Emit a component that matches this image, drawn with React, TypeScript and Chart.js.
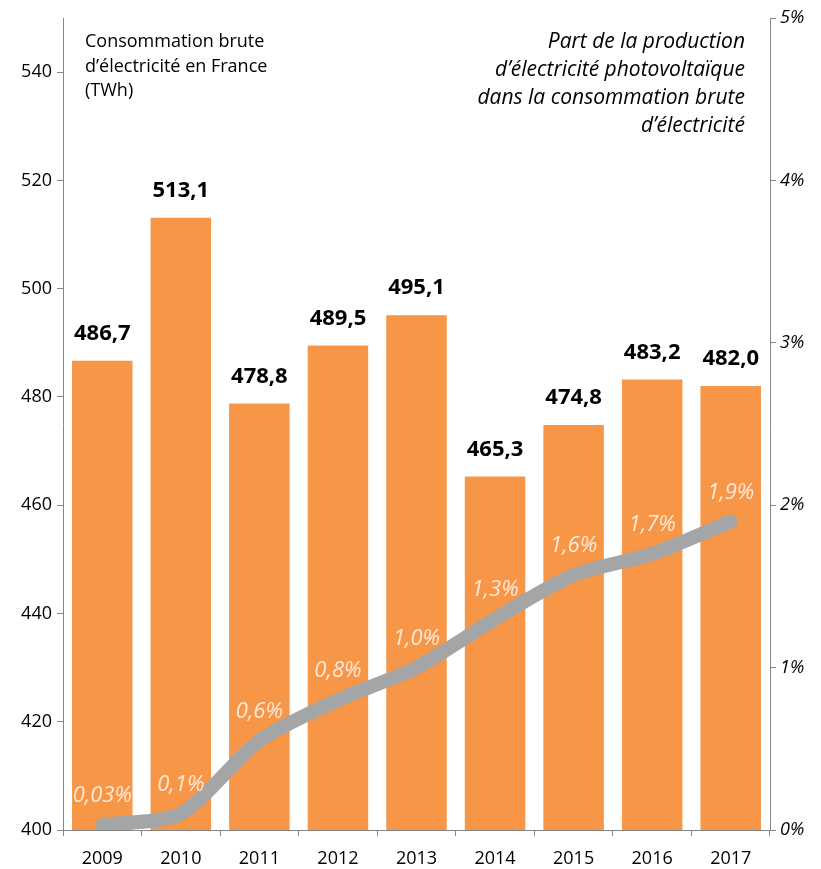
import React, { useEffect, useRef } from "react";
import { Chart, registerables } from "chart.js";
Chart.register(...registerables);

const years = ["2009", "2010", "2011", "2012", "2013", "2014", "2015", "2016", "2017"];
const consumption = [486.7, 513.1, 478.8, 489.5, 495.1, 465.3, 474.8, 483.2, 482.0];
const consumptionLabels = ["486,7", "513,1", "478,8", "489,5", "495,1", "465,3", "474,8", "483,2", "482,0"];
const pvShare = [0.03, 0.1, 0.55, 0.8, 1.0, 1.3, 1.57, 1.7, 1.9];
const pvShareLabels = ["0,03%", "0,1%", "0,6%", "0,8%", "1,0%", "1,3%", "1,6%", "1,7%", "1,9%"];
const leftTitle = ["Consommation brute", "d\u2019électricité en France", "(TWh)"];
const rightTitle = ["Part de la production", "d\u2019électricité photovoltaïque", "dans la consommation brute", "d\u2019électricité"];

const FONT = "'Open Sans', sans-serif";

const labelsPlugin = {
  id: "labelsPlugin",
  afterDatasetsDraw(chart: any) {
    const ctx = chart.ctx;
    ctx.save();
    const bars = chart.getDatasetMeta(1).data;
    ctx.textAlign = "center";
    ctx.textBaseline = "middle";
    ctx.fillStyle = "#000";
    ctx.font = `bold 22px ${FONT}`;
    bars.forEach((b: any, i: number) => {
      ctx.fillText(consumptionLabels[i], b.x, b.y - 27);
    });
    const pts = chart.getDatasetMeta(0).data;
    ctx.fillStyle = "#fde9d9";
    ctx.font = `italic 22px ${FONT}`;
    pts.forEach((p: any, i: number) => {
      ctx.fillText(pvShareLabels[i], p.x, p.y - 29);
    });
    ctx.fillStyle = "#000";
    ctx.font = `18px ${FONT}`;
    ctx.textAlign = "left";
    leftTitle.forEach((t, i) => ctx.fillText(t, 85, 42 + i * 24.5));
    ctx.textAlign = "right";
    ctx.font = `italic 21px ${FONT}`;
    rightTitle.forEach((t, i) => ctx.fillText(t, 745, 42 + i * 28));
    ctx.restore();
  },
};

export default function App() {
  const ref = useRef<HTMLCanvasElement>(null);
  useEffect(() => {
    const chart = new Chart(ref.current!, {
      type: "bar",
      data: {
        labels: years,
        datasets: [
          {
            type: "line",
            data: pvShare,
            yAxisID: "y1",
            borderColor: "#a4a5a7",
            borderWidth: 14,
            borderCapStyle: "round",
            borderJoinStyle: "round",
            pointRadius: 0,
            tension: 0.25,
            order: 0,
          } as any,
          {
            type: "bar",
            data: consumption,
            yAxisID: "y",
            backgroundColor: "#f79646",
            barPercentage: 0.77,
            categoryPercentage: 1,
            order: 1,
          },
        ],
      },
      options: {
        animation: false,
        responsive: false,
        maintainAspectRatio: false,
        layout: { padding: { top: 18, left: 0, right: 0, bottom: 0 } },
        plugins: { legend: { display: false }, tooltip: { enabled: false } },
        scales: {
          x: {
            grid: { display: true, drawOnChartArea: false, tickLength: 6, color: "#868686", offset: true },
            border: { color: "#868686" },
            ticks: { color: "#000", font: { family: FONT, size: 18 }, padding: 12 },
            afterFit: (s: any) => { s.height = 39; },
          },
          y: {
            position: "left",
            min: 400,
            max: 550,
            afterBuildTicks: (a: any) => { a.ticks = a.ticks.filter((t: any) => t.value !== 550); },
            grid: { drawOnChartArea: false, tickLength: 6, color: "#868686" },
            border: { color: "#868686" },
            ticks: { stepSize: 20, color: "#000", font: { family: FONT, size: 18 }, padding: 5 },
            afterFit: (s: any) => { s.width = 63; },
          },
          y1: {
            position: "right",
            min: 0,
            max: 5,
            grid: { drawOnChartArea: false, tickLength: 6, color: "#868686" },
            border: { color: "#868686" },
            ticks: {
              stepSize: 1,
              color: "#000",
              font: { family: FONT, size: 18, style: "italic" },
              padding: 4,
              callback: (v: any) => `${v}%`,
            },
            afterFit: (s: any) => { s.width = 51; },
          },
        },
      },
      plugins: [labelsPlugin],
    });
    return () => chart.destroy();
  }, []);
  return (
    <div style={{ position: "absolute", left: 0, top: 0, width: 821, height: 869 }}>
      <canvas ref={ref} width={821} height={869} />
    </div>
  );
}
